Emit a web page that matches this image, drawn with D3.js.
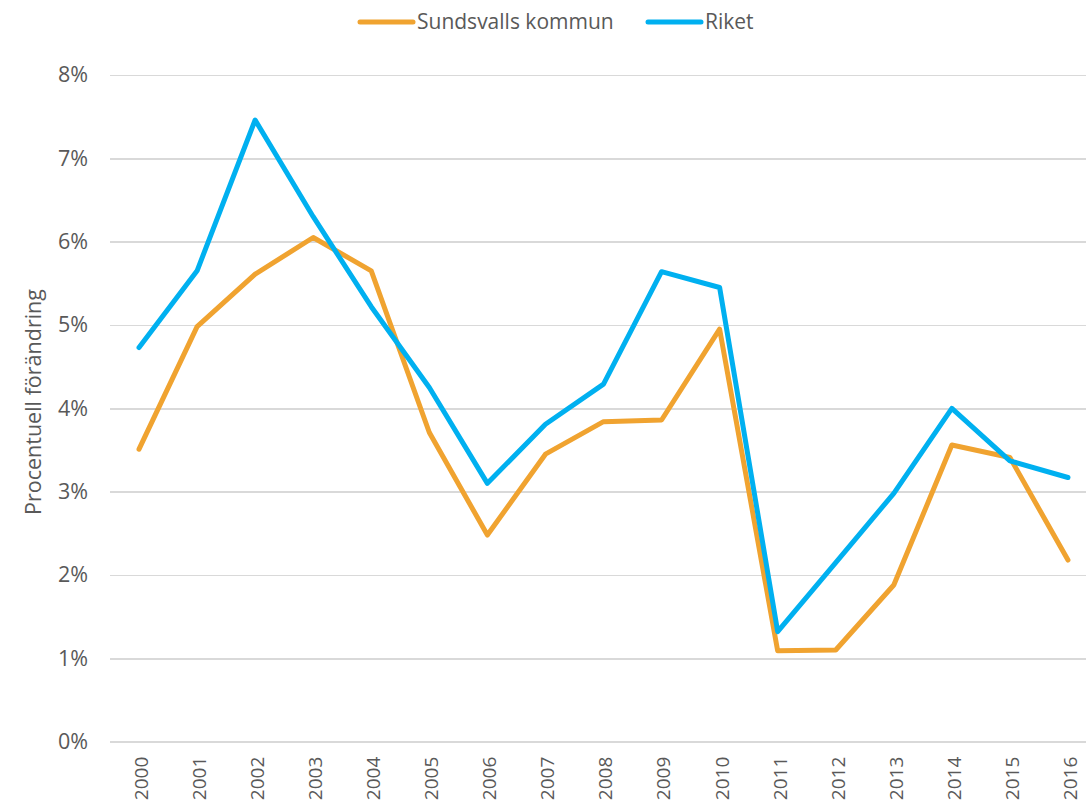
<!DOCTYPE html>
<html lang="sv">
<head>
<meta charset="UTF-8">
<title>Procentuell förändring</title>
<script src="https://cdn.jsdelivr.net/npm/d3@7"></script>
<style>
body{
	margin:0;
	background:#fff;
}
svg text{
	font-family:"Open Sans", sans-serif;
}
.grid line{
	stroke:#d9d9d9;
	stroke-width:1.5px;
	shape-rendering:crispEdges;
}
.axis text{
	fill:#595959;
}
.serie{
	fill:none;
	stroke-width:5px;
	stroke-linejoin:round;
	stroke-linecap:round;
}
.legend text{
	fill:#595959;
	font-size:21px;
}
</style>
</head>
<body>
<script>
// år och värden (procent)
var years = ["2000","2001","2002","2003","2004","2005","2006","2007","2008",
	"2009","2010","2011","2012","2013","2014","2015","2016"];
var sundsvall = [3.51,4.98,5.61,6.05,5.65,3.71,2.48,3.45,3.84,3.86,4.95,1.09,1.10,1.88,3.56,3.41,2.18];
var riket = [4.73,5.65,7.46,6.30,5.22,4.25,3.10,3.81,4.29,5.64,5.45,1.32,2.15,2.98,4.00,3.37,3.17];
var yTicks = [0,1,2,3,4,5,6,7,8];
var seriesNames = ["Sundsvalls kommun","Riket"];
var colors = ["#f0a330","#00b0f0"];

function chart(){
	var W = 1086, H = 805;
	var pl = 110, pr = 1097, pt = 75, pb = 741.7;

	var svg = d3.select("body").append("svg").attr("width", W).attr("height", H);

	var x = d3.scaleBand().domain(years).range([pl, pr]);
	var y = d3.scaleLinear().domain([0, 8]).range([pb, pt]);
	function cx(d){ return x(d) + x.bandwidth()/2; }

	// rutnät + y-axel
	var gy = svg.append("g").attr("class","axis grid")
		.attr("transform","translate(" + pl + ",0)")
		.call(d3.axisLeft(y).tickValues(yTicks).tickSize(-(pr-pl)).tickPadding(22)
			.tickFormat(function(d){ return d + "%"; }));
	gy.select(".domain").remove();
	gy.selectAll("text").style("font-size","21.5px");

	// x-axel
	var gx = svg.append("g").attr("class","axis")
		.attr("transform","translate(0," + pb + ")")
		.call(d3.axisBottom(x).tickSize(0));
	gx.select(".domain").remove();
	gx.selectAll("text")
		.style("font-size","19px")
		.attr("text-anchor","end")
		.attr("transform","rotate(-90)")
		.attr("x",-15).attr("y",0).attr("dy","0.47em");

	// y-titel
	svg.append("text")
		.attr("transform","translate(41,402) rotate(-90)")
		.attr("text-anchor","middle")
		.style("font-size","21.5px").style("fill","#595959")
		.text("Procentuell förändring");

	// linjer
	var line = d3.line().x(function(d,i){ return cx(years[i]); }).y(function(d){ return y(d); });
	[sundsvall, riket].forEach(function(s, i){
		svg.append("path").attr("class","serie").attr("d", line(s)).style("stroke", colors[i]);
	});

	// legend
	var leg = svg.append("g").attr("class","legend");
	var legX = [360, 648];
	seriesNames.forEach(function(n, i){
		leg.append("line").attr("x1", legX[i]).attr("x2", legX[i]+53).attr("y1",22).attr("y2",22)
			.style("stroke", colors[i]).style("stroke-width",5).style("stroke-linecap","round");
		leg.append("text").attr("x", legX[i]+57).attr("y",22).attr("dy","0.35em").text(n);
	});
}
chart();
</script>
</body>
</html>
